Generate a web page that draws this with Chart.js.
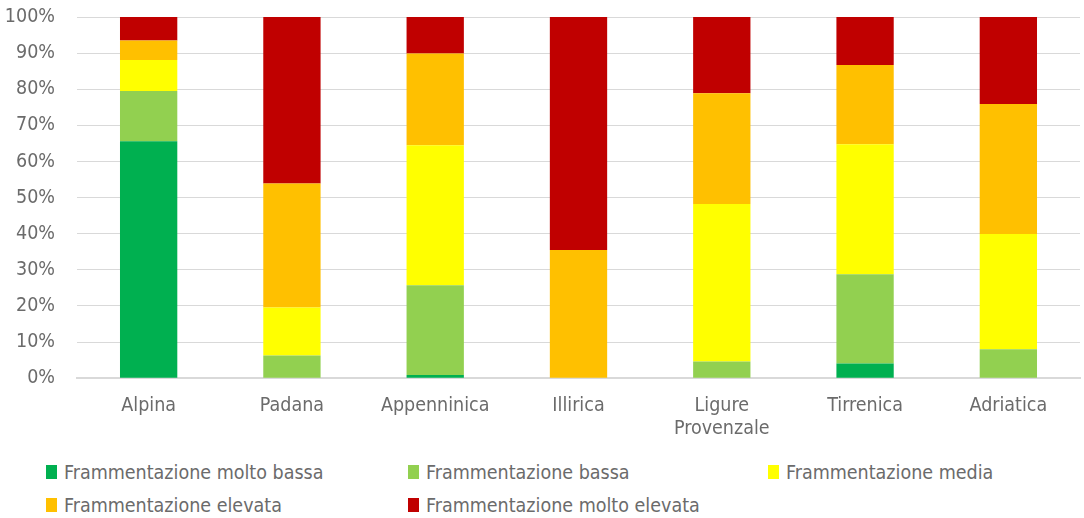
<!DOCTYPE html>
<html>
<head>
<meta charset="utf-8">
<script src="https://cdn.jsdelivr.net/npm/chart.js@4/dist/chart.umd.min.js"></script>
<style>
  html, body { margin: 0; padding: 0; background: #fff; }
  #wrap { position: relative; width: 1084px; height: 518px; }
  #chart { position: absolute; left: 0; top: 0; }
  #legend {
    position: absolute; left: 46px; top: 460px;
    display: grid; grid-template-columns: 362px 360px auto;
    row-gap: 9px;
    font-family: "DejaVu Sans Condensed", "Liberation Sans Narrow", sans-serif;
    font-size: 19.5px; color: #6b6b6b;
  }
  #legend .item { display: flex; align-items: center; white-space: nowrap; height: 24px; }
  #legend .box { width: 11px; height: 14px; margin-right: 7px; }
</style>
</head>
<body>
<div id="wrap">
  <canvas id="chart" width="1084" height="457"></canvas>
  <div id="legend"></div>
</div>
<script>
document.addEventListener("DOMContentLoaded", function () {
    const regions = ['Alpina', 'Padana', 'Appenninica', 'Illirica', ['Ligure', 'Provenzale'], 'Tirrenica', 'Adriatica'];
    const seriesNames = [
        'Frammentazione molto bassa',
        'Frammentazione bassa',
        'Frammentazione media',
        'Frammentazione elevata',
        'Frammentazione molto elevata'
    ];
    // percent share of each class, per region
    const moltoBassa   = [65.6, 0.0, 0.9, 0.0, 0.0, 4.1, 0.0];
    const bassa        = [13.9, 6.3, 24.8, 0.0, 4.6, 24.7, 8.0];
    const media        = [8.6, 13.3, 38.8, 0.0, 43.6, 36.0, 31.9];
    const elevata      = [5.4, 34.3, 25.4, 35.5, 30.7, 21.9, 36.0];
    const moltoElevata = [6.5, 46.1, 10.1, 64.5, 21.1, 13.3, 24.1];
    const yTicks = [0, 10, 20, 30, 40, 50, 60, 70, 80, 90, 100];

    const colors = ['#00B050', '#92D050', '#FFFF00', '#FFC000', '#C00000'];
    const values = [moltoBassa, bassa, media, elevata, moltoElevata];
    const font = "'DejaVu Sans Condensed', 'Liberation Sans Narrow', sans-serif";

    const ctx = document.getElementById('chart').getContext('2d');

    new Chart(ctx, {
        type: 'bar',
        data: {
            labels: regions,
            datasets: values.map((v, i) => ({
                label: seriesNames[i],
                data: v,
                backgroundColor: colors[i],
                borderWidth: 0,
                barPercentage: 0.4,
                categoryPercentage: 1.0
            }))
        },
        options: {
            responsive: false,
            animation: false,
            layout: { padding: { top: 17, right: 4, left: 0, bottom: 0 } },
            scales: {
                x: {
                    stacked: true,
                    grid: { display: false, drawTicks: false },
                    border: { color: '#d9d9d9', width: 2 },
                    ticks: {
                        color: '#6b6b6b',
                        font: { family: font, size: 19.5 },
                        padding: 16,
                        maxRotation: 0
                    }
                },
                y: {
                    stacked: true,
                    min: 0,
                    max: 100,
                    afterFit: function (scale) {
                        scale.width = 77;
                        scale.paddingTop = 0;
                        scale.paddingBottom = 0;
                    },
                    afterBuildTicks: function (scale) {
                        scale.ticks = yTicks.map(v => ({ value: v }));
                    },
                    grid: { color: '#d9d9d9', drawTicks: false },
                    border: { display: false },
                    ticks: {
                        color: '#6b6b6b',
                        font: { family: font, size: 19.5 },
                        padding: 22,
                        callback: v => v + '%'
                    }
                }
            },
            plugins: {
                legend: { display: false },
                tooltip: { enabled: false }
            }
        }
    });

    // legend in three columns below the chart
    const legend = document.getElementById('legend');
    seriesNames.forEach((name, i) => {
        const item = document.createElement('div');
        item.className = 'item';
        const box = document.createElement('span');
        box.className = 'box';
        box.style.background = colors[i];
        item.appendChild(box);
        item.appendChild(document.createTextNode(name));
        legend.appendChild(item);
    });
});
</script>
</body>
</html>
